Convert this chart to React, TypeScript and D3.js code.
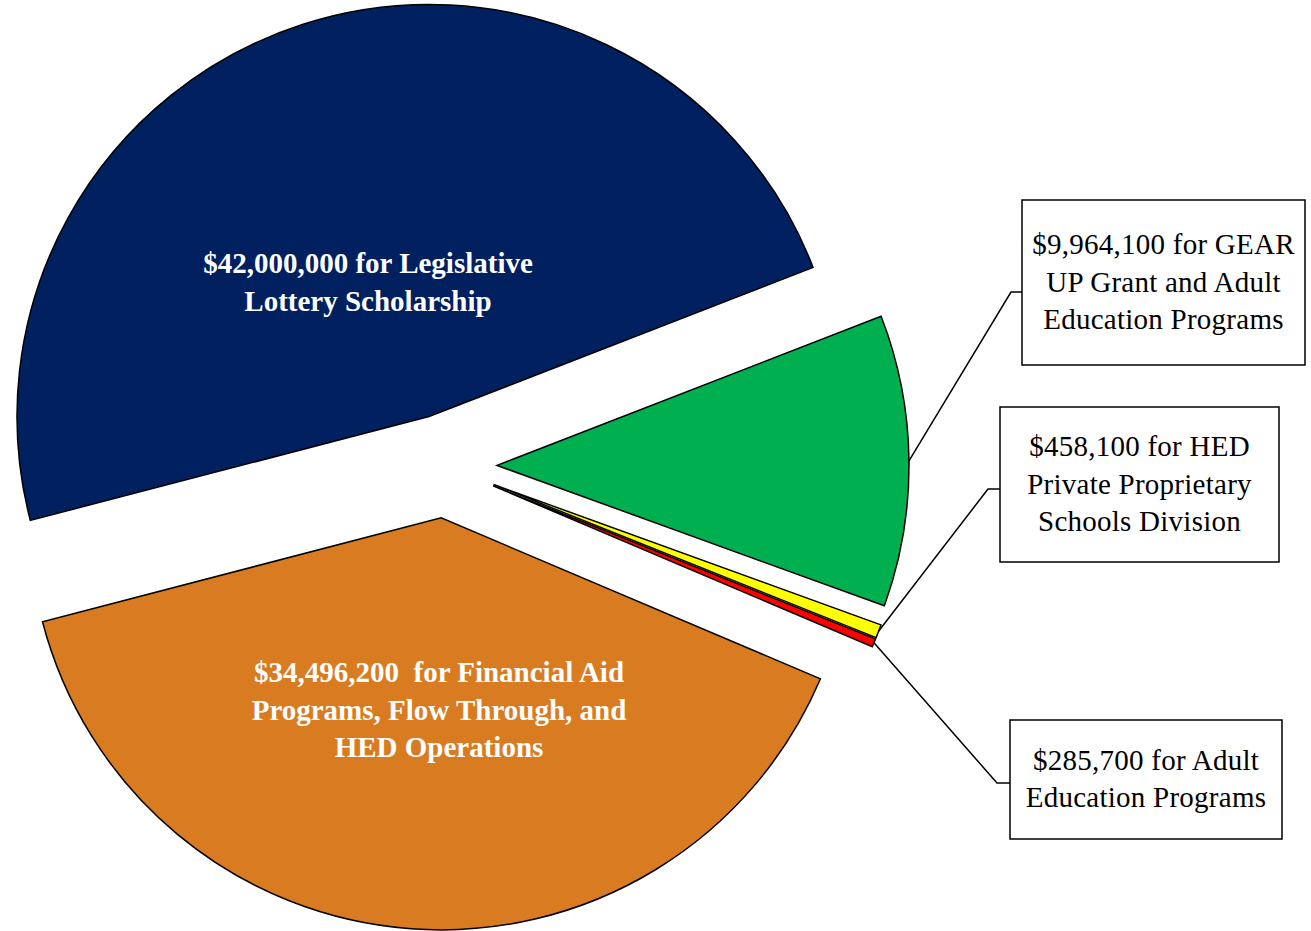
import * as d3 from 'd3';

// Slices in clockwise order starting from the navy one
const sliceKeys = ['lottery', 'gearUp', 'proprietary', 'adultEd', 'financialAid'];
const sliceValues = [42000000, 9964100, 458100, 285700, 34496200];
const sliceColors = ['#002060', '#00B050', '#FFFF00', '#FF0000', '#D97C21'];

// Labels drawn inside the two big slices
const insideLabels = [
  { key: 'lottery', lines: ['$42,000,000 for Legislative', 'Lottery Scholarship'], x: 368, y: 273 },
  { key: 'financialAid', lines: ['$34,496,200  for Financial Aid', 'Programs, Flow Through, and', 'HED Operations'], x: 439, y: 682 },
];

// Callout boxes for the small slices
const callouts = [
  { key: 'gearUp', lines: ['$9,964,100 for GEAR', 'UP Grant and Adult', 'Education Programs'], box: [1022, 200, 283, 165], elbow: [1011, 292] },
  { key: 'proprietary', lines: ['$458,100 for HED', 'Private Proprietary', 'Schools Division'], box: [1000, 407, 279, 155], elbow: [988, 489] },
  { key: 'adultEd', lines: ['$285,700 for Adult', 'Education Programs'], box: [1010, 720, 272, 119], elbow: [997, 783] },
];

const W = 1311, H = 931;
const cx = 445, cy = 466;
const R = 412;
const EXPLODE = 52;
const LINE_H = 37.5;
const FONT = '"Liberation Serif", "Times New Roman", serif';

export default function App() {
  const pie = d3.pie<number>().sort(null)
    .startAngle((255.4 * Math.PI) / 180)
    .endAngle((615.4 * Math.PI) / 180);
  const arcs = pie(sliceValues);
  const arc = d3.arc<d3.PieArcDatum<number>>().innerRadius(0).outerRadius(R);

  // offset of each exploded slice along its mid-angle (d3 angle: 0 = up, clockwise)
  const offset = (a: d3.PieArcDatum<number>) => {
    const m = (a.startAngle + a.endAngle) / 2;
    return [EXPLODE * Math.sin(m), -EXPLODE * Math.cos(m)];
  };
  const outerMid = (a: d3.PieArcDatum<number>) => {
    const m = (a.startAngle + a.endAngle) / 2;
    const [dx, dy] = offset(a);
    return [cx + dx + R * Math.sin(m), cy + dy - R * Math.cos(m)];
  };

  return (
    <svg width={W} height={H} style={{ position: 'absolute', left: 0, top: 0, background: '#fff' }}>
      {arcs.map((a, i) => {
        const [dx, dy] = offset(a);
        return (
          <path key={sliceKeys[i]} d={arc(a) || ''} transform={`translate(${cx + dx},${cy + dy})`}
            fill={sliceColors[i]} stroke="#000" strokeWidth={1.5} strokeLinejoin="miter" />
        );
      })}

      {insideLabels.map((l) => (
        <text key={l.key} x={l.x} y={l.y} textAnchor="middle" fill="#fff" fontFamily={FONT}
          fontWeight="bold" fontSize={29} style={{ whiteSpace: 'pre' }}>
          {l.lines.map((t, j) => (
            <tspan key={j} x={l.x} y={l.y + j * LINE_H}>{t}</tspan>
          ))}
        </text>
      ))}

      {callouts.map((c) => {
        const i = sliceKeys.indexOf(c.key);
        const [sx, sy] = outerMid(arcs[i]);
        const [bx, by, bw, bh] = c.box;
        const [ex, ey] = c.elbow;
        const ty = by + bh / 2 - ((c.lines.length - 1) * LINE_H) / 2 + 9;
        return (
          <g key={c.key}>
            <polyline points={`${sx},${sy} ${ex},${ey} ${bx},${ey}`} fill="none" stroke="#000" strokeWidth={1.5} />
            <rect x={bx} y={by} width={bw} height={bh} fill="#fff" stroke="#000" strokeWidth={1.5} />
            <text x={bx + bw / 2} y={ty} textAnchor="middle" fill="#000" fontFamily={FONT} fontSize={29}
              letterSpacing={0.25}>
              {c.lines.map((t, j) => (
                <tspan key={j} x={bx + bw / 2} y={ty + j * LINE_H}>{t}</tspan>
              ))}
            </text>
          </g>
        );
      })}
    </svg>
  );
}
